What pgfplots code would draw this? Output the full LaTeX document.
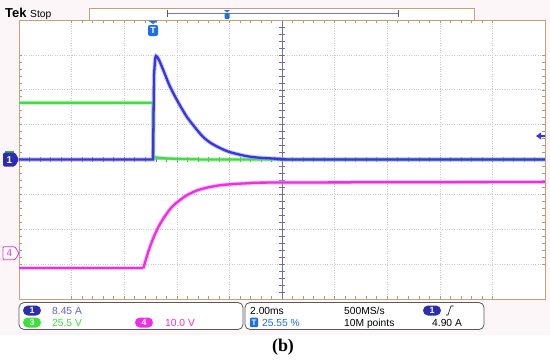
\documentclass[border=0pt]{standalone}
\usepackage{pgfplots}
\pgfplotsset{compat=1.18}
\usepackage{fontspec}
\setmainfont{Liberation Sans}
\newfontfamily\capfont{Liberation Serif}
\usetikzlibrary{shapes.misc}

\definecolor{frame}{RGB}{200,160,120}
\definecolor{bg}{RGB}{252,246,249}
\definecolor{chA}{RGB}{55,55,225}
\definecolor{chC}{RGB}{60,225,60}
\definecolor{chD}{RGB}{240,45,230}
\definecolor{ctr}{RGB}{110,110,170}
\definecolor{tblue}{RGB}{30,110,230}
\definecolor{boxline}{RGB}{90,90,90}

\tikzset{
  txt/.style={inner sep=0pt, anchor=base west, font=\fontsize{10.3}{10}\selectfont},
  oval/.style={rounded rectangle, inner sep=0pt, minimum width=18bp, minimum height=10bp,
               text=white, font=\bfseries\fontsize{9}{9}\selectfont},
}
\pgfplotsset{
  glow/.style={#1!50, line width=4.2bp, opacity=0.55},
  core/.style={#1, line width=2.3bp},
}

\pgfplotstableread{
x y
-5 1.63
-2.452 1.63
-2.450 0.08
-2.40 0.06
-2.2 0.03
-1.5 0.0
5 0.0
}\chthree

\pgfplotstableread{
x y
-5 -3.12
-2.637 -3.12
}\chfourflat
\pgfplotstableread{
x y
-2.637 -3.12
-2.537 -2.62
-2.437 -2.22
-2.337 -1.90
-2.237 -1.65
-2.137 -1.44
-2.037 -1.28
-1.837 -1.05
-1.637 -0.90
-1.437 -0.81
-1.137 -0.73
-0.637 -0.68
-0.037 -0.66
5 -0.645
}\chfourrise

\pgfplotstableread{
x y
-5 0
-2.452 0
-2.433 2.42
-2.414 2.85
}\choneedge
\pgfplotstableread{
x y
-2.414 2.85
-2.395 2.97
-2.340 2.86
-2.240 2.50
-2.129 2.09
-1.977 1.65
-1.812 1.23
-1.654 0.92
-1.502 0.65
-1.350 0.47
-1.179 0.33
-1.027 0.23
-0.861 0.16
-0.646 0.09
-0.418 0.05
-0.038 0.02
0.34 0
5 0
}\chonedecay

\begin{document}
\begin{tikzpicture}[x=1bp, y=-1bp]
\useasboundingbox (0,0) rectangle (550,363);
\fill[bg] (0,0) rectangle (550,335);
\fill[white] (0,335) rectangle (550,363);

\begin{axis}[
    at={(19bp,-299bp)}, anchor=south west,
    scale only axis,
    width=526bp, height=279bp,
    xmin=-5, xmax=5, ymin=-4, ymax=4,
    axis background/.style={fill=white},
    axis line style={frame, line width=0.8bp},
    xtick={-4,...,4}, ytick={-3,...,3},
    minor x tick num=4, minor y tick num=4,
    xticklabels={}, yticklabels={},
    tick align=inside,
    major tick length=3bp, minor tick length=3bp,
    every tick/.style={frame!70!gray, line width=0.5bp},
    grid=major,
    major grid style={dotted, gray!40, line width=0.6bp},
    clip=true,
]
% centre cross hair
\draw[ctr, line width=0.8bp] (axis cs:0,-4) -- (axis cs:0,4);
\draw[ctr!60, line width=0.6bp] (axis cs:-5,0) -- (axis cs:5,0);
\pgfplotsinvokeforeach{-4.8,-4.6,...,4.8}{
  \draw[ctr, line width=0.5bp] (axis cs:#1,-0.07) -- (axis cs:#1,0.07);
}
\pgfplotsinvokeforeach{-3.8,-3.6,...,3.8}{
  \draw[ctr, line width=0.5bp] (axis cs:-0.05,#1) -- (axis cs:0.05,#1);
}

% channel 3 (green)
\addplot[glow=chC] table {\chthree};
\addplot[core=chC] table {\chthree};

% channel 4 (magenta)
\addplot[glow=chD] table {\chfourflat};
\addplot[glow=chD, smooth] table {\chfourrise};
\addplot[core=chD] table {\chfourflat};
\addplot[core=chD, smooth] table {\chfourrise};

% channel 1 (blue)
\addplot[glow=chA] table {\choneedge};
\addplot[glow=chA, smooth] table {\chonedecay};
\addplot[core=chA] table {\choneedge};
\addplot[core=chA, smooth] table {\chonedecay};
\end{axis}

% header
\node[inner sep=0pt, anchor=base west, font=\bfseries\fontsize{13}{13}\selectfont] at (5,17.5) {Tek};
\node[inner sep=0pt, anchor=base west, font=\fontsize{10.3}{10}\selectfont] at (30,17.5) {Stop};
\draw[frame, fill=white, line width=0.8bp] (89,8) rectangle (474,20);
\draw[chA!70, line width=1.2bp] (167,13.5) -- (398,13.5);
\draw[ctr!80!black, line width=0.8bp] (167,10) -- (167,17) (398,10) -- (398,17);
\fill[tblue] (224,10) -- (230,10) -- (227,12.5) -- cycle;
\fill[tblue, rounded corners=1bp] (224.5,13) rectangle (229.5,19);

% trigger position marker
\fill[tblue] (148,20.5) -- (158,20.5) -- (153,24) -- cycle;
\fill[tblue, rounded corners=2bp] (148,25) rectangle (158,36);
\node[white, inner sep=0pt, font=\bfseries\fontsize{9}{9}\selectfont] at (153,30.5) {T};

% trigger level marker
\draw[chA, line width=1.2bp] (539,136) -- (545,136);
\fill[chA] (536,136) -- (541,132.5) -- (541,139.5) -- cycle;

% channel reference markers
\fill[chC!80!black] (5,150.5) rectangle (14,152.5);
\fill[chA!80!black, rounded corners=1.5bp] (3,152.5) -- (15,152.5) -- (19,159.5) -- (15,166.5) -- (3,166.5) -- cycle;
\node[white, inner sep=0pt, font=\bfseries\fontsize{10}{10}\selectfont] at (9.5,159.8) {1};
\draw[chD, fill=white, line width=0.8bp, rounded corners=1bp] (3,246.8) -- (15,246.8) -- (19,253.3) -- (15,259.8) -- (3,259.8) -- cycle;
\node[chD, inner sep=0pt, font=\fontsize{10}{10}\selectfont] at (9.5,253.5) {4};

% readout boxes
\draw[boxline, fill=white, line width=0.8bp, rounded corners=5bp] (19,302.5) rectangle (243,329.5);
\draw[boxline, fill=white, line width=0.8bp, rounded corners=5bp] (245,302.5) rectangle (484,329.5);

\node[oval, fill=chA!80!black] at (32,310.5) {1};
\node[txt, text=chA!80] at (52,314) {8.45 A};
\node[oval, fill=chC] at (32,322.5) {3};
\node[txt, text=chC] at (52,326) {25.5 V};
\node[oval, fill=chD] at (144,322.5) {4};
\node[txt, text=chD] at (165,326) {10.0 V};

\node[txt] at (250,314) {2.00ms};
\fill[tblue, rounded corners=1bp] (250,317.5) rectangle (258,327);
\node[white, inner sep=0pt, font=\bfseries\fontsize{8}{8}\selectfont] at (254,322.3) {T};
\node[txt, text=tblue] at (262,326) {25.55 \%};
\node[txt] at (344,314) {500MS/s};
\node[txt] at (344,326) {10M points};
\node[oval, fill=chA!80!black] at (432,310.5) {1};
\draw[black, line width=0.6bp] (446,315) -- (448,315) -- (451,306) -- (453.5,306);
\node[txt] at (432,326) {4.90 A};

% caption
\node[inner sep=0pt, anchor=base, font=\capfont\bfseries\fontsize{18}{18}\selectfont] at (283,351) {(b)};
\end{tikzpicture}
\end{document}
